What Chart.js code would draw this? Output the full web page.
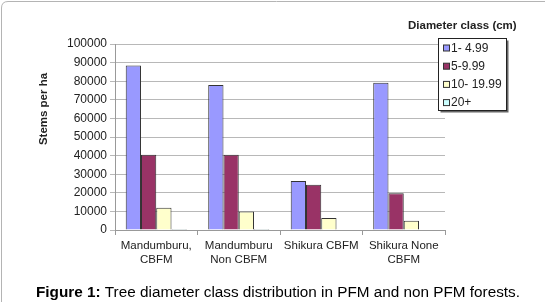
<!DOCTYPE html>
<html>
<head>
<meta charset="utf-8">
<script src="https://cdn.jsdelivr.net/npm/chart.js@4.4.0/dist/chart.umd.min.js"></script>
<style>
  body { margin: 0; background: #fff; }
  #wrap { position: relative; width: 545px; height: 302px; }
</style>
</head>
<body>
<div id="wrap"><canvas id="chart" width="545" height="302"></canvas></div>
<script>
// Dữ liệu biểu đồ
const categories = [
  ["Mandumburu,", "CBFM"],
  ["Mandumburu", "Non CBFM"],
  "Shikura CBFM",
  ["Shikura None", "CBFM"]
];
const classLabels = ["1- 4.99", "5-9.99", "10- 19.99", "20+"];
const class1 = [88500, 78000, 26300, 79200];
const class2 = [40500, 40500, 24300, 19800];
const class3 = [12000, 10000, 6500, 5000];
const class4 = [600, 600, 0, 0];
const yTicks = [0, 10000, 20000, 30000, 40000, 50000, 60000, 70000, 80000, 90000, 100000];

const colors = ["#9999ff", "#993366", "#ffffcc", "#ccffff"];
const seriesValues = [class1, class2, class3, class4];

const FONT = "'Liberation Sans', Arial, sans-serif";
const TEXT = "#222";

// Vẽ khung, tiêu đề trục, chú thích và chú giải
const decorPlugin = {
  id: "decor",
  afterDraw(chart) {
    const ctx = chart.ctx;
    ctx.save();

    // khung bo góc (chỉ thấy cạnh trên và trái)
    ctx.strokeStyle = "#b4b4b4";
    ctx.lineWidth = 1;
    ctx.beginPath();
    ctx.moveTo(1.5, 302);
    ctx.lineTo(1.5, 8);
    ctx.quadraticCurveTo(1.5, 1.5, 8, 1.5);
    ctx.lineTo(545, 1.5);
    ctx.stroke();

    // tiêu đề trục y
    ctx.fillStyle = TEXT;
    ctx.font = "bold 11.5px " + FONT;
    ctx.textAlign = "center";
    ctx.textBaseline = "middle";
    ctx.translate(44, 109);
    ctx.rotate(-Math.PI / 2);
    ctx.fillText("Stems per ha", 0, 0);
    ctx.setTransform(1, 0, 0, 1, 0, 0);

    // tiêu đề chú giải
    ctx.font = "bold 11.5px " + FONT;
    ctx.textAlign = "left";
    ctx.fillText("Diameter class (cm)", 408, 26);

    // hộp chú giải
    const bx = 438.5, by = 38.5, bw = 68, bh = 72;
    ctx.fillStyle = "#666";
    ctx.fillRect(bx + 2, by + 2, bw, bh);
    ctx.fillStyle = "#fff";
    ctx.fillRect(bx, by, bw, bh);
    ctx.strokeStyle = "#222";
    ctx.strokeRect(bx, by, bw, bh);
    chart.data.datasets.forEach((ds, i) => {
      const y = 48 + i * 18.2;
      ctx.fillStyle = ds.backgroundColor;
      ctx.fillRect(443.5, y - 3, 6, 6);
      ctx.strokeStyle = "#333";
      ctx.strokeRect(443.5, y - 3, 6, 6);
      ctx.fillStyle = TEXT;
      ctx.font = "12px " + FONT;
      ctx.fillText(ds.label, 451, y + 0.5);
    });

    // chú thích hình
    ctx.fillStyle = "#000";
    ctx.textBaseline = "alphabetic";
    ctx.font = "bold 15.3px " + FONT;
    const bold = "Figure 1:";
    ctx.fillText(bold, 36, 297);
    const w = ctx.measureText(bold).width;
    ctx.font = "15.3px " + FONT;
    ctx.fillText(" Tree diameter class distribution in PFM and non PFM forests.", 36 + w, 297);

    ctx.restore();
  }
};

const ctx = document.getElementById("chart").getContext("2d");
new Chart(ctx, {
  type: "bar",
  data: {
    labels: categories,
    datasets: seriesValues.map((vals, i) => ({
      label: classLabels[i],
      data: vals,
      backgroundColor: colors[i],
      borderColor: "#333",
      borderWidth: 1,
      categoryPercentage: 0.74,
      barPercentage: 1.0
    }))
  },
  options: {
    responsive: false,
    devicePixelRatio: 1,
    animation: false,
    layout: { padding: { left: 0, right: 100, top: 44, bottom: 0 } },
    plugins: { legend: { display: false }, tooltip: { enabled: false } },
    scales: {
      x: {
        grid: { offset: true, drawOnChartArea: false, drawTicks: true, tickLength: 5, color: "#999" },
        border: { color: "#999" },
        ticks: { color: TEXT, font: { size: 11.5, family: FONT }, padding: 4, maxRotation: 0, autoSkip: false },
        afterFit(scale) { scale.height = 72; }
      },
      y: {
        min: 0,
        max: 100000,
        afterBuildTicks(scale) { scale.ticks = yTicks.map(v => ({ value: v })); },
        grid: { color: "#b8b8b8", tickLength: 5 },
        border: { color: "#999" },
        ticks: { color: TEXT, font: { size: 12, family: FONT }, padding: 3, callback: v => String(v) },
        afterFit(scale) { scale.width = 115; }
      }
    }
  },
  plugins: [decorPlugin]
});
</script>
</body>
</html>
